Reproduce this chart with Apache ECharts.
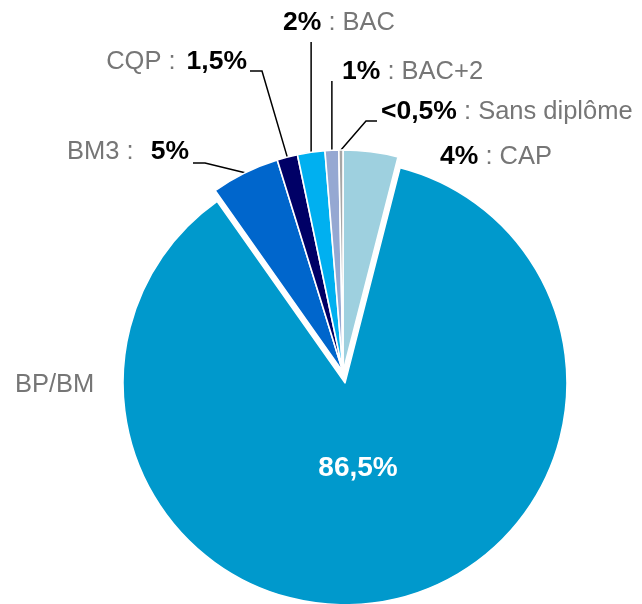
<!DOCTYPE html>
<html>
<head>
<meta charset="utf-8">
<script src="https://cdn.jsdelivr.net/npm/echarts@6/dist/echarts.min.js"></script>
<style>
  html, body { margin: 0; padding: 0; background: #fff; }
  #chart { width: 642px; height: 604px; }
</style>
</head>
<body>
<div id="chart"></div>
<script>
// Diploma breakdown, clockwise from 12 o'clock
const categories = ['CAP', 'BP/BM', 'BM3', 'CQP', 'BAC', 'BAC+2', 'Sans diplôme'];
const shares = [4, 86.5, 5, 1.5, 2, 1, 0.3];
const shareLabels = ['4%', '86,5%', '5%', '1,5%', '2%', '1%', '<0,5%'];

// Slice colours
const sliceColors = ['#9ED0DF', '#0099CC', '#0066CC', '#000066', '#00B0F0', '#95A8D2', '#A6A6A6'];

const FONT = '"Liberation Sans", Arial, sans-serif';
const TEXT_GREY = '#767676';

// Where each outside label sits, and how its leader line bends
const labelSpots = {
  'CAP':          { x: 440, y: 157, align: 'left' },
  'BP/BM':        { x: 15,  y: 385, align: 'left' },
  'BM3':          { x: 189, y: 152, align: 'right', gap: 'gapWide', bend: [205, 163], end: [193, 163] },
  'CQP':          { x: 247, y: 62,  align: 'right', gap: 'gapNarrow', bend: [262, 71],  end: [250, 71] },
  'BAC':          { x: 283, y: 23,  align: 'left', up: 42 },
  'BAC+2':        { x: 342, y: 72,  align: 'left', up: 81 },
  'Sans diplôme': { x: 381, y: 112, align: 'left', bend: [366, 121], end: [377, 121] }
};
const noLine = ['CAP', 'BP/BM'];
const BIG = 'BP/BM';

function outsideText(i) {
  const name = categories[i];
  const spot = labelSpots[name];
  if (name === BIG) return '{n|' + name + '}';
  if (spot.align === 'right') {
    return '{n|' + name + ' :}{' + spot.gap + '| }{v|' + shareLabels[i] + '}';
  }
  return '{v|' + shareLabels[i] + '}{n| : ' + name + '}';
}

const center = [343, 372];
const radius = 222;

// Shared geometry for the three stacked pie layers
function pieBase() {
  return {
    type: 'pie',
    center: center,
    radius: radius,
    startAngle: 90,
    clockwise: true,
    silent: true,
    avoidLabelOverlap: false,
    emphasis: { disabled: true }
  };
}

const sliceData = categories.map((name, i) => ({
  name: name,
  value: shares[i],
  selected: name === BIG
}));

const nameData = categories.map((name, i) => ({
  name: name,
  value: shares[i],
  labelLine: { show: noLine.indexOf(name) < 0 }
}));

const valueData = categories.map((name, i) => ({
  name: name,
  value: shares[i],
  label: { show: name === BIG }
}));

const chart = echarts.init(document.getElementById('chart'), null, { renderer: 'canvas' });
chart.setOption({
  animation: false,
  color: sliceColors,
  series: [
    Object.assign(pieBase(), {
      // the coloured slices, with the large one pulled out
      selectedMode: 'single',
      selectedOffset: 11,
      itemStyle: { borderColor: '#fff', borderWidth: 1.6 },
      label: { show: false },
      labelLine: { show: false },
      data: sliceData
    }),
    Object.assign(pieBase(), {
      // outside labels with leader lines
      itemStyle: { color: 'transparent', borderWidth: 0 },
      data: nameData,
      label: {
        show: true,
        position: 'outside',
        formatter: p => outsideText(p.dataIndex),
        rich: {
          v: { fontFamily: FONT, fontSize: 26.5, fontWeight: 'bold', color: '#000' },
          n: { fontFamily: FONT, fontSize: 25.5, color: TEXT_GREY },
          gapWide: { fontFamily: FONT, fontSize: 25.5, width: 17 },
          gapNarrow: { fontFamily: FONT, fontSize: 25.5, width: 11 }
        }
      },
      labelLine: { show: true, lineStyle: { color: '#000', width: 1.5 } },
      labelLayout: function (p) {
        const s = labelSpots[categories[p.dataIndex]];
        const out = { x: s.x, y: s.y, align: s.align, verticalAlign: 'middle' };
        const start = p.labelLinePoints && p.labelLinePoints[0];
        if (start) {
          if (s.up != null) {
            out.labelLinePoints = [start, [start[0], s.up], [start[0], s.up]];
          } else if (s.bend) {
            out.labelLinePoints = [start, s.bend, s.end];
          }
        }
        return out;
      }
    }),
    Object.assign(pieBase(), {
      // value printed inside the large slice
      itemStyle: { color: 'transparent', borderWidth: 0 },
      data: valueData,
      label: {
        position: 'inside',
        formatter: p => shareLabels[p.dataIndex],
        fontFamily: FONT,
        fontSize: 28,
        fontWeight: 'bold',
        color: '#fff'
      },
      labelLine: { show: false },
      labelLayout: function () {
        return { x: 358, y: 468, align: 'center', verticalAlign: 'middle' };
      }
    })
  ]
});
</script>
</body>
</html>
